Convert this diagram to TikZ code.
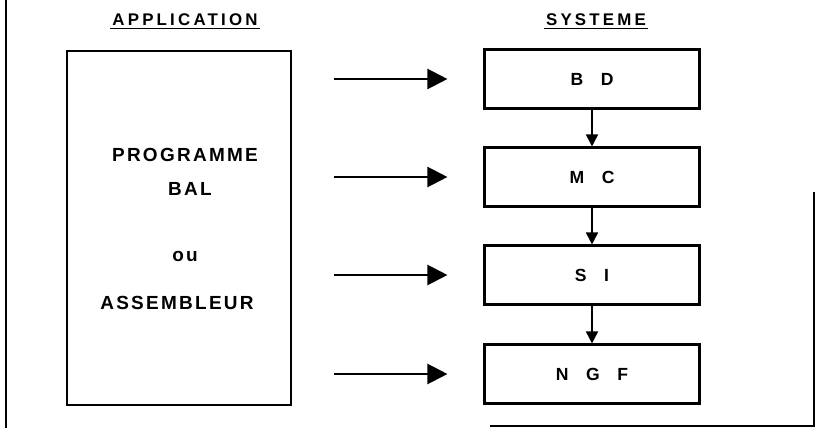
\documentclass[tikz,border=0pt]{standalone}
\usepackage{fontspec}
\setmainfont{Liberation Sans}
\usetikzlibrary{arrows.meta}

\tikzset{
	titre/.style={font=\bfseries\fontsize{12}{14}\selectfont\addfontfeature{LetterSpace=19}, inner sep=1.5pt},
	prog/.style={font=\bfseries\fontsize{13.5}{16}\selectfont\addfontfeature{LetterSpace=12}, inner sep=1pt},
	bloc/.style={draw, line width=1.5pt, minimum width=5.375cm, minimum height=1.475cm, font=\bfseries\fontsize{12.5}{14}\selectfont\addfontfeature{LetterSpace=10}},
	grosfleche/.style={line width=1.6pt, -{Triangle[length=0.5cm,width=0.5cm]}},
	petitefleche/.style={line width=1.2pt, -{Triangle[length=0.3cm,width=0.3cm]}}
}

\begin{document}
\begin{tikzpicture}
			\useasboundingbox (0,0) rectangle (20.4,10.7);
			
			% cadre
			\draw [line width=1.4pt](0.15,10.7)--(0.15,0);
			\draw [line width=1.4pt](12.25,0.05)--(20.35,0.05)--(20.35,5.9);
			
			% titres
			\node (titreapp) at (4.625,10.2)[titre]{APPLICATION};
			\draw [line width=1.1pt](titreapp.south west)--(titreapp.south east);
			\node (titresys) at (14.9,10.2)[titre]{SYSTEME};
			\draw [line width=1.1pt](titresys.south west)--(titresys.south east);
			
			% application
			\node (app) at (4.475,5.0)[draw, line width=1.5pt, minimum width=5.6cm, minimum height=8.85cm]{};
			\node (programme) at (4.625,6.825)[prog]{PROGRAMME};
			\node (bal) at (4.75,5.975)[prog]{BAL};
			\node (ou) at (4.625,4.3)[prog]{ou};
			\node (assembleur) at (4.425,3.125)[prog]{ASSEMBLEUR};
			
			% systeme
			\node (bd) at (14.8,8.725)[bloc]{B\quad D};
			\node (mc) at (14.8,6.275)[bloc]{M\quad C};
			\node (si) at (14.8,3.825)[bloc]{S\quad I};
			\node (ngf) at (14.8,1.35)[bloc]{N\quad G\quad F};
			
			\draw [petitefleche](bd)--(mc);
			\draw [petitefleche](mc)--(si);
			\draw [petitefleche](si)--(ngf);
			
			\draw [grosfleche, shorten <=1.05cm, shorten >=0.9cm](app.east |- bd)--(bd.west);
			\draw [grosfleche, shorten <=1.05cm, shorten >=0.9cm](app.east |- mc)--(mc.west);
			\draw [grosfleche, shorten <=1.05cm, shorten >=0.9cm](app.east |- si)--(si.west);
			\draw [grosfleche, shorten <=1.05cm, shorten >=0.9cm](app.east |- ngf)--(ngf.west);
			
\end{tikzpicture}
\end{document}
